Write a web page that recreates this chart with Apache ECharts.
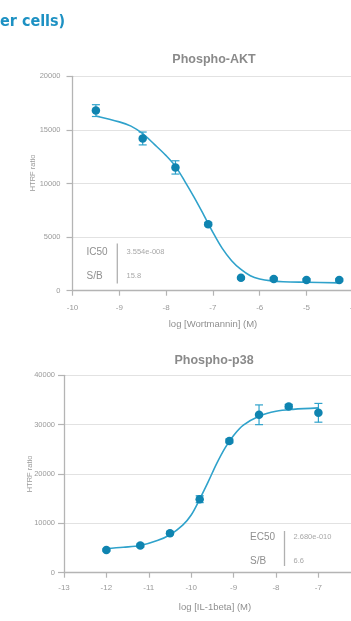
<!DOCTYPE html>
<html>
<head>
<meta charset="utf-8">
<script src="https://cdn.jsdelivr.net/npm/echarts@6/dist/echarts.min.js"></script>
<style>
html,body{margin:0;padding:0;background:#fff;}
#c{width:351px;height:621px;}
</style>
</head>
<body>
<div id="c"></div>
<script>
// ---- Phospho-AKT (Wortmannin) ----
const aktLogDose = [-9.5, -8.5, -7.8, -7.1, -6.4, -5.7, -5.0, -4.3];
const aktRatio   = [16800, 14200, 11500, 6200, 1200, 1100, 1000, 1000];
const aktErr     = [550, 600, 620, 150, 100, 100, 100, 100];
const aktFitX = [-9.5, -9.0, -8.75, -8.5, -8.25, -8.0, -7.8, -7.6, -7.4, -7.2, -7.0, -6.8, -6.6, -6.4, -6.2, -6.0, -5.75, -5.5, -5.0, -4.3];
const aktFitY = [16300, 15750, 15350, 14650, 13650, 12600, 11600, 10200, 8700, 7100, 5450, 3950, 2800, 1980, 1400, 1100, 920, 840, 790, 730];
const aktXTicks = [-10, -9, -8, -7, -6, -5, -4];
const aktYTicks = [0, 5000, 10000, 15000, 20000];

// ---- Phospho-p38 (IL-1beta) ----
const p38LogDose = [-12.0, -11.2, -10.5, -9.8, -9.1, -8.4, -7.7, -7.0];
const p38Ratio   = [4600, 5500, 8000, 14900, 26700, 32000, 33700, 32400];
const p38Err     = [200, 300, 300, 700, 400, 2000, 400, 1900];
const p38FitX = [-12.0, -11.6, -11.2, -10.8, -10.5, -10.2, -10.0, -9.8, -9.6, -9.4, -9.2, -9.0, -8.77, -8.4, -8.0, -7.6, -7.0];
const p38FitY = [4900, 5150, 5500, 6500, 7700, 9650, 11700, 14900, 18400, 22100, 25300, 27800, 29900, 31700, 32700, 33100, 33400];
const p38XTicks = [-13, -12, -11, -10, -9, -8, -7, -6];
const p38YTicks = [0, 10000, 20000, 30000, 40000];

const labelsAKT = {title: 'Phospho-AKT', xName: 'log [Wortmannin] (M)', yName: 'HTRF ratio', k1: 'IC50', v1: '3.554e-008', k2: 'S/B', v2: '15.8'};
const labelsP38 = {title: 'Phospho-p38', xName: 'log [IL-1beta] (M)', yName: 'HTRF ratio', k1: 'EC50', v1: '2.680e-010', k2: 'S/B', v2: '6.6'};
const heading = 'er cells)';

const DOT = '#0f84b0', CURVE = '#2fa2cb', AXIS = '#b4b4b4', GRID = '#e2e2e2', TXT = '#9a9a9a';
const FONT = "'Liberation Sans', Arial, sans-serif";

function zip(a, b) { return a.map((v, i) => [v, b[i]]); }
function errData(x, y, e) { return x.map((v, i) => [v, y[i], y[i] - e[i], y[i] + e[i]]); }

function errRender(params, api) {
  const x = api.value(0), lo = api.value(2), hi = api.value(3);
  const a = api.coord([x, lo]), b = api.coord([x, hi]);
  const w = 4;
  const st = {stroke: CURVE, lineWidth: 1.2};
  return {type: 'group', children: [
    {type: 'line', shape: {x1: a[0], y1: a[1], x2: b[0], y2: b[1]}, style: st},
    {type: 'line', shape: {x1: a[0] - w, y1: a[1], x2: a[0] + w, y2: a[1]}, style: st},
    {type: 'line', shape: {x1: b[0] - w, y1: b[1], x2: b[0] + w, y2: b[1]}, style: st}
  ]};
}

function xAx(idx, ticks, margin) {
  return {
    type: 'value', gridIndex: idx, min: ticks[0], max: ticks[ticks.length - 1], interval: 1,
    axisLine: {show: true, onZero: false, lineStyle: {color: AXIS, width: 1.3}},
    axisTick: {show: true, length: 5, lineStyle: {color: AXIS, width: 1.2}},
    axisLabel: {color: TXT, fontSize: 8, fontFamily: FONT, margin: margin, showMaxLabel: true, showMinLabel: true},
    splitLine: {show: false}
  };
}
function yAx(idx, ticks, margin) {
  return {
    type: 'value', gridIndex: idx, min: ticks[0], max: ticks[ticks.length - 1], interval: ticks[1] - ticks[0],
    axisLine: {show: true, lineStyle: {color: AXIS, width: 1.3}},
    axisTick: {show: true, length: 6, lineStyle: {color: AXIS, width: 1.2}},
    axisLabel: {color: TXT, fontSize: 7.5, fontFamily: FONT, margin: margin, formatter: v => String(v)},
    splitLine: {show: true, lineStyle: {color: GRID, width: 1.2}}
  };
}

function txt(x, y, s, size, color, opts) {
  return {type: 'text', x: x, y: y, style: Object.assign({text: s, fill: color, fontSize: size, fontFamily: FONT, verticalAlign: 'middle'}, opts || {})};
}
function vtxt(x, y, s) {
  return {type: 'text', x: x, y: y, rotation: Math.PI / 2, style: {text: s, fill: TXT, fontSize: 7.5, fontFamily: FONT, align: 'center', verticalAlign: 'middle'}};
}

const chart = echarts.init(document.getElementById('c'), null, {renderer: 'canvas'});
chart.setOption({
  animation: false,
  backgroundColor: '#fff',
  grid: [
    {left: 72.5, top: 76.3, width: 280.8, height: 214.4, outerBoundsMode: 'none', containLabel: false},
    {left: 64, top: 375.3, width: 296.8, height: 197.4, outerBoundsMode: 'none', containLabel: false}
  ],
  xAxis: [xAx(0, aktXTicks, 13), xAx(1, p38XTicks, 11)],
  yAxis: [yAx(0, aktYTicks, 12), yAx(1, p38YTicks, 9)],
  series: [
    {type: 'line', xAxisIndex: 0, yAxisIndex: 0, data: zip(aktFitX, aktFitY), smooth: 0.35, showSymbol: false, lineStyle: {color: CURVE, width: 1.6}, z: 2},
    {type: 'custom', xAxisIndex: 0, yAxisIndex: 0, data: errData(aktLogDose, aktRatio, aktErr), renderItem: errRender, encode: {x: 0, y: 1}, z: 3},
    {type: 'scatter', xAxisIndex: 0, yAxisIndex: 0, data: zip(aktLogDose, aktRatio), symbolSize: 8.5, itemStyle: {color: DOT, opacity: 1}, z: 4},
    {type: 'line', xAxisIndex: 1, yAxisIndex: 1, data: zip(p38FitX, p38FitY), smooth: 0.35, showSymbol: false, lineStyle: {color: CURVE, width: 1.6}, z: 2},
    {type: 'custom', xAxisIndex: 1, yAxisIndex: 1, data: errData(p38LogDose, p38Ratio, p38Err), renderItem: errRender, encode: {x: 0, y: 1}, z: 3},
    {type: 'scatter', xAxisIndex: 1, yAxisIndex: 1, data: zip(p38LogDose, p38Ratio), symbolSize: 8.5, itemStyle: {color: DOT, opacity: 1}, z: 4}
  ],
  graphic: [
    txt(0, 22, heading, 16, '#1d91c3', {fontWeight: 'bold', fontFamily: "'DejaVu Sans Condensed', 'Liberation Sans Narrow', sans-serif"}),
    // top chart
    txt(214, 60, labelsAKT.title, 12.5, '#8a8a8a', {fontWeight: 'bold', align: 'center'}),
    txt(213, 324, labelsAKT.xName, 9.5, '#8f8f8f', {align: 'center'}),
    vtxt(33, 173, labelsAKT.yName),
    txt(86.5, 252, labelsAKT.k1, 10, '#8f8f8f'),
    txt(86.5, 276, labelsAKT.k2, 10, '#8f8f8f'),
    {type: 'line', shape: {x1: 117.3, y1: 243.5, x2: 117.3, y2: 283.5}, style: {stroke: '#b0b0b0', lineWidth: 1.3}},
    txt(126.5, 252, labelsAKT.v1, 7.5, '#a8a8a8'),
    txt(126.5, 276, labelsAKT.v2, 7.5, '#a8a8a8'),
    // bottom chart
    txt(214, 361, labelsP38.title, 12.5, '#8a8a8a', {fontWeight: 'bold', align: 'center'}),
    txt(215, 607, labelsP38.xName, 9.5, '#8f8f8f', {align: 'center'}),
    vtxt(30, 474, labelsP38.yName),
    txt(250, 537, labelsP38.k1, 10, '#8f8f8f'),
    txt(250, 561, labelsP38.k2, 10, '#8f8f8f'),
    {type: 'line', shape: {x1: 284.5, y1: 531, x2: 284.5, y2: 566}, style: {stroke: '#b0b0b0', lineWidth: 1.3}},
    txt(293.5, 537, labelsP38.v1, 7.5, '#a8a8a8'),
    txt(293.5, 561, labelsP38.v2, 7.5, '#a8a8a8')
  ]
});
</script>
</body>
</html>
